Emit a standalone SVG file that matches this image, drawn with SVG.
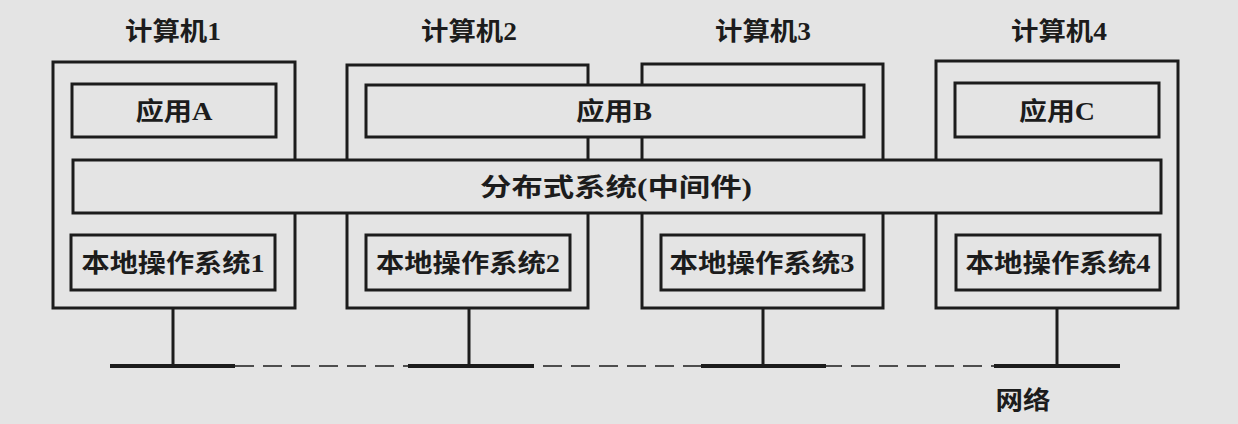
<svg xmlns="http://www.w3.org/2000/svg" width="1238" height="424" viewBox="0 0 1238 424">
<style>
.box{fill:#e4e4e4;stroke:#1c1c1c;stroke-width:3}
.t{font-family:"Liberation Serif","Noto Sans CJK SC",serif;font-weight:bold;font-size:25px;fill:#1c1c1c;text-anchor:middle}
.net{stroke:#1c1c1c;stroke-width:4;fill:none}
.stem{stroke:#1c1c1c;stroke-width:3;fill:none}
.dash{stroke:#1c1c1c;stroke-width:1.6;stroke-dasharray:19 9;fill:none}
</style>
<rect x="0" y="0" width="1238" height="424" fill="#e4e4e4"/>
<g id="computer1">
<rect class="box" x="53" y="62" width="242" height="246"/>
<text class="t" x="173" y="40" textLength="96" lengthAdjust="spacingAndGlyphs">计算机1</text>
</g>
<g id="computer2">
<rect class="box" x="347" y="65" width="241" height="243"/>
<text class="t" x="469" y="40" textLength="96" lengthAdjust="spacingAndGlyphs">计算机2</text>
</g>
<g id="computer3">
<rect class="box" x="642" y="64" width="241" height="244"/>
<text class="t" x="763" y="40" textLength="96" lengthAdjust="spacingAndGlyphs">计算机3</text>
</g>
<g id="computer4">
<rect class="box" x="936" y="61" width="242" height="247"/>
<text class="t" x="1059" y="40" textLength="96" lengthAdjust="spacingAndGlyphs">计算机4</text>
</g>
<g id="appA">
<rect class="box" x="72" y="84" width="204" height="53"/>
<text class="t" x="174" y="120" textLength="77" lengthAdjust="spacingAndGlyphs">应用A</text>
</g>
<g id="appB">
<rect class="box" x="366" y="85" width="498" height="52"/>
<text class="t" x="614" y="120" textLength="76" lengthAdjust="spacingAndGlyphs">应用B</text>
</g>
<g id="appC">
<rect class="box" x="955" y="83" width="204" height="54"/>
<text class="t" x="1057" y="120" textLength="76" lengthAdjust="spacingAndGlyphs">应用C</text>
</g>
<g id="middleware">
<rect class="box" x="73" y="160" width="1088" height="53"/>
<text class="t" x="616" y="196" textLength="272" lengthAdjust="spacingAndGlyphs">分布式系统(中间件)</text>
</g>
<g id="os1">
<rect class="box" x="71" y="235" width="204" height="55"/>
<text class="t" x="173" y="272" textLength="183" lengthAdjust="spacingAndGlyphs">本地操作系统1</text>
</g>
<g id="os2">
<rect class="box" x="366" y="235" width="204" height="55"/>
<text class="t" x="468" y="272" textLength="184" lengthAdjust="spacingAndGlyphs">本地操作系统2</text>
</g>
<g id="os3">
<rect class="box" x="661" y="235" width="203" height="55"/>
<text class="t" x="762" y="272" textLength="185" lengthAdjust="spacingAndGlyphs">本地操作系统3</text>
</g>
<g id="os4">
<rect class="box" x="956" y="235" width="204" height="55"/>
<text class="t" x="1058" y="272" textLength="185" lengthAdjust="spacingAndGlyphs">本地操作系统4</text>
</g>
<g id="connectors">
<line class="dash" x1="235" y1="366" x2="994" y2="366"/>
<line class="net" x1="110" y1="366" x2="235" y2="366"/>
<line class="net" x1="408" y1="366" x2="534" y2="366"/>
<line class="net" x1="701" y1="366" x2="826" y2="366"/>
<line class="net" x1="994" y1="366" x2="1120" y2="366"/>
<line class="stem" x1="173" y1="308" x2="173" y2="366"/>
<line class="stem" x1="469" y1="308" x2="469" y2="366"/>
<line class="stem" x1="763" y1="308" x2="763" y2="366"/>
<line class="stem" x1="1057" y1="308" x2="1057" y2="366"/>
</g>
<g id="network">
<text class="t" x="1023" y="409" textLength="55" lengthAdjust="spacingAndGlyphs">网络</text>
</g>
</svg>
